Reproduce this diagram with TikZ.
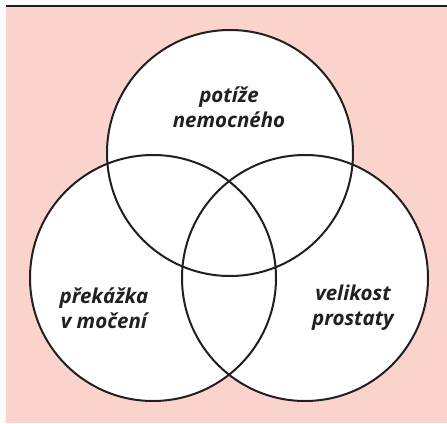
\documentclass[tikz,border=0pt]{standalone}
\usepackage{fontspec}
\setsansfont{Open Sans}
\definecolor{bgpink}{RGB}{250,212,204}
\definecolor{ink}{RGB}{35,31,32}
\begin{document}
\begin{tikzpicture}[x=1pt,y=-1pt,
  venn/.style={circle, minimum size=246pt, inner sep=0pt},
  lbl/.style={text=ink, font=\sffamily\bfseries\itshape\fontsize{20.5}{25}\selectfont, align=center}]
\useasboundingbox (0,0) rectangle (447,423);
\fill[bgpink] (6,7) rectangle (447,423);
\draw[ink, line width=2.5pt] (6,6) -- (447,6);
\node[venn, fill=white] (top) at (230,153) {};
\node[venn, fill=white] (left) at (153,278) {};
\node[venn, fill=white] (right) at (305,278) {};
\foreach \c in {top,left,right}
  \draw[ink, line width=2pt] (\c) circle (123pt);
\node[lbl] (t1) at (229,107) {potíže\\nemocného};
\node[lbl] (t2) at (104,308) {překážka\\v močení};
\node[lbl] (t3) at (353,308) {velikost\\prostaty};
\end{tikzpicture}
\end{document}
